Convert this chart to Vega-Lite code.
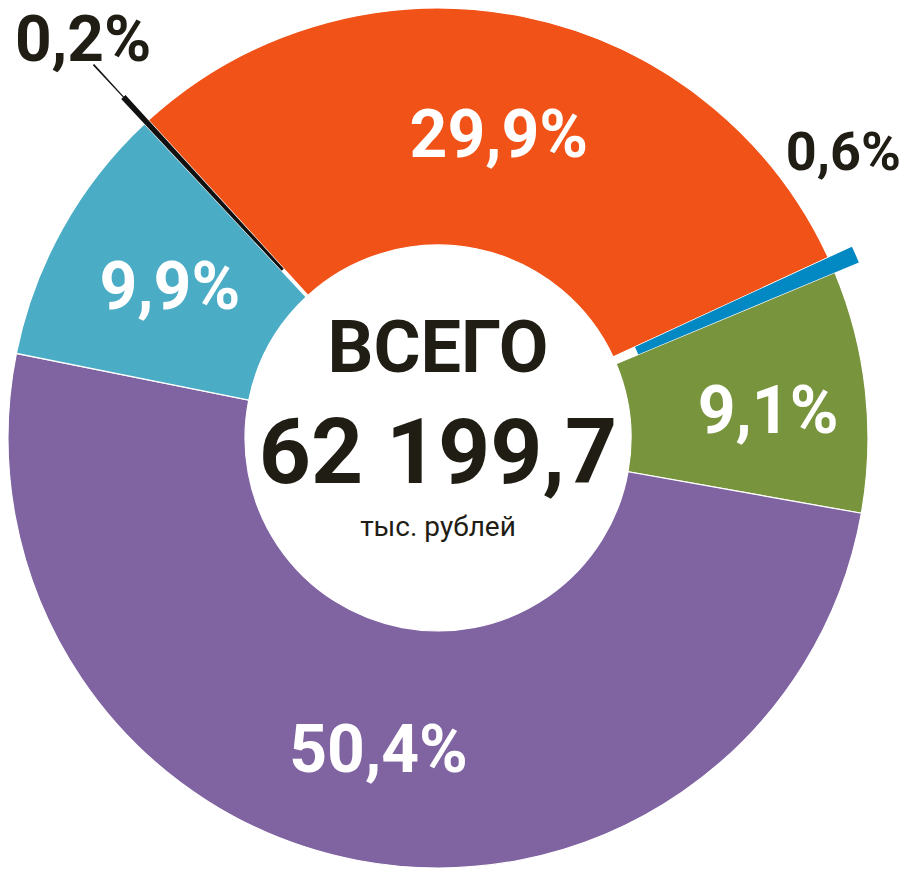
{
  "$schema": "https://vega.github.io/schema/vega-lite/v6.json",
  "width": 876,
  "height": 876,
  "autosize": "none",
  "padding": {"left": 0, "top": 0, "right": 30, "bottom": 0},
  "background": "white",
  "config": {"view": {"stroke": null}},
  "data": {
    "values": [
      {"cat": "0,2%", "share": 0.2, "order": 1},
      {"cat": "29,9%", "share": 29.9, "order": 2},
      {"cat": "0,6%", "share": 0.6, "order": 3},
      {"cat": "9,1%", "share": 9.1, "order": 4},
      {"cat": "50,4%", "share": 50.4, "order": 5},
      {"cat": "9,9%", "share": 9.9, "order": 6}
    ]
  },
  "layer": [
    {
      "encoding": {
        "theta": {"field": "share", "type": "quantitative", "stack": true, "scale": {"range": [5.5317, 11.8149]}},
        "order": {"field": "order", "type": "quantitative"}
      },
      "layer": [
        {
          "mark": {"type": "arc", "innerRadius": 193, "outerRadius": 430, "stroke": "white", "strokeWidth": 1.2},
          "encoding": {
            "color": {
              "condition": {"test": "datum.share < 1", "value": "white"},
              "field": "cat", "type": "nominal",
              "scale": {"domain": ["0,2%", "29,9%", "0,6%", "9,1%", "50,4%", "9,9%"], "range": ["#1a1a1a", "#F15218", "#0288C2", "#78943D", "#8064A2", "#4BACC6"]},
              "legend": null
            }
          }
        },
        {
          "mark": {"type": "arc", "innerRadius": 217, "outerRadius": 456},
          "encoding": {
            "color": {"condition": {"test": "datum.cat === '0,6%'", "value": "#0288C2"}, "value": "transparent"}
          }
        },
        {
          "mark": {"type": "arc", "innerRadius": 229, "outerRadius": 464},
          "encoding": {
            "color": {"condition": {"test": "datum.cat === '0,2%'", "value": "#111111"}, "value": "transparent"}
          }
        },
        {
          "mark": {"type": "arc", "innerRadius": 462, "outerRadius": 508, "padAngle": 0.0067},
          "encoding": {
            "color": {"condition": {"test": "datum.cat === '0,2%'", "value": "#111111"}, "value": "transparent"}
          }
        },
        {
          "mark": {"type": "text", "radius": 307, "font": "Roboto", "fontWeight": "bold", "fontSize": 66, "baseline": "middle", "align": "center", "color": "white"},
          "encoding": {
            "text": {"condition": {"test": "datum.cat === '29,9%' || datum.cat === '9,9%'", "field": "cat"}, "value": ""}
          }
        },
        {
          "mark": {"type": "text", "radius": 320, "font": "Roboto", "fontWeight": "bold", "fontSize": 66, "baseline": "middle", "align": "center", "color": "white"},
          "encoding": {
            "text": {"condition": {"test": "datum.cat === '50,4%'", "field": "cat"}, "value": ""}
          }
        },
        {
          "mark": {"type": "text", "radius": 331, "thetaOffset": 0.033, "font": "Roboto", "fontWeight": "bold", "fontSize": 66, "baseline": "middle", "align": "center", "color": "white"},
          "encoding": {
            "text": {"condition": {"test": "datum.cat === '9,1%'", "field": "cat"}, "value": ""}
          }
        },
        {
          "mark": {"type": "text", "radius": 532, "thetaOffset": 0.015, "font": "Roboto", "fontWeight": "bold", "fontSize": 64, "baseline": "middle", "align": "center", "color": "#1f1d14"},
          "encoding": {
            "text": {"condition": {"test": "datum.cat === '0,2%'", "field": "cat"}, "value": ""}
          }
        },
        {
          "mark": {"type": "text", "radius": 495, "thetaOffset": -0.197, "font": "Roboto", "fontWeight": "bold", "fontSize": 54, "baseline": "middle", "align": "center", "color": "#1f1d14"},
          "encoding": {
            "text": {"condition": {"test": "datum.cat === '0,6%'", "field": "cat"}, "value": ""}
          }
        }
      ]
    },
    {
      "data": {"values": [{"title": "ВСЕГО", "total": "62 199,7", "unit": "тыс. рублей"}]},
      "layer": [
        {
          "mark": {"type": "text", "font": "Roboto", "fontWeight": "bold", "fontSize": 72, "dy": -88, "baseline": "middle", "align": "center", "color": "#1f1d14"},
          "encoding": {"text": {"field": "title"}}
        },
        {
          "mark": {"type": "text", "font": "Roboto", "fontWeight": "bold", "fontSize": 91, "dy": 18, "baseline": "middle", "align": "center", "color": "#1f1d14"},
          "encoding": {"text": {"field": "total"}}
        },
        {
          "mark": {"type": "text", "font": "Roboto", "fontSize": 28, "dy": 90, "baseline": "middle", "align": "center", "color": "#1f1d14"},
          "encoding": {"text": {"field": "unit"}}
        }
      ]
    }
  ]
}
